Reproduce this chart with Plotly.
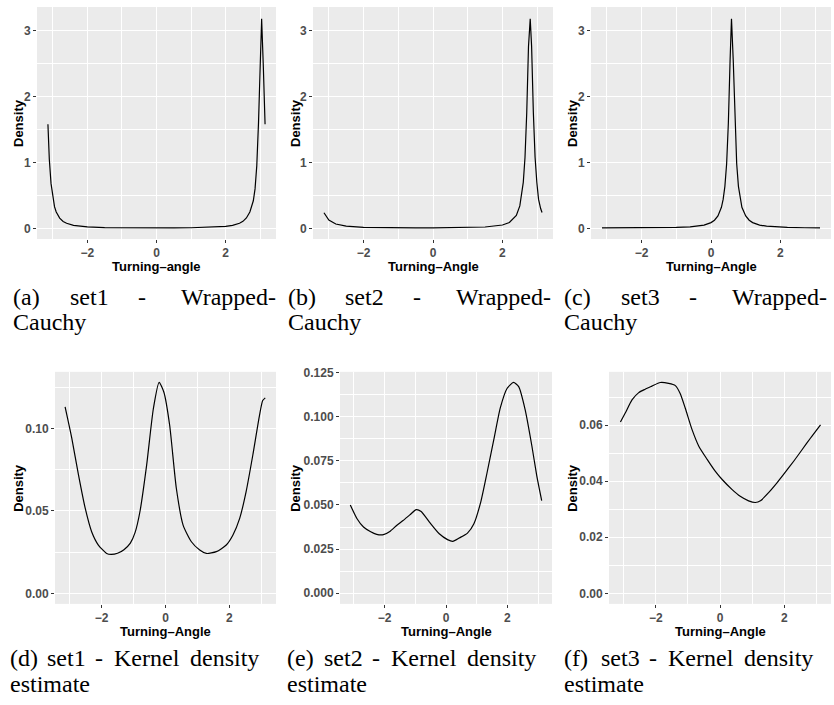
import plotly.graph_objects as go

# ---------------- data ----------------
# (a) set1 - Wrapped-Cauchy
xa = [-3.14, -3.1, -3.05, -3.0, -2.95, -2.9, -2.8, -2.7, -2.6, -2.4, -2.2, -2.0, -1.5, -1.0, -0.5,
      0.0, 0.5, 1.0, 1.5, 2.0, 2.2, 2.4, 2.5, 2.6, 2.7, 2.8, 2.85, 2.9, 2.95, 3.0, 3.04, 3.09, 3.14]
ya = [1.58, 1.05, 0.68, 0.46, 0.33, 0.25, 0.157, 0.107, 0.078, 0.047, 0.032, 0.023, 0.0135, 0.0098, 0.0083,
      0.008, 0.0087, 0.0109, 0.0163, 0.032, 0.047, 0.079, 0.108, 0.159, 0.25, 0.42, 0.6, 0.95, 1.6, 2.6, 3.18, 2.45, 1.58]

# (b) set2 - Wrapped-Cauchy
xb = [-3.14, -3.0, -2.8, -2.5, -2.0, -1.5, -1.0, -0.5, 0.0, 0.5, 1.0, 1.5, 2.0, 2.2, 2.4, 2.5,
      2.6, 2.65, 2.7, 2.75, 2.8, 2.84, 2.89, 2.94, 2.99, 3.04, 3.1, 3.14]
yb = [0.238, 0.128, 0.067, 0.0347, 0.0171, 0.0113, 0.0088, 0.008, 0.0082, 0.0097, 0.0133, 0.0219, 0.0527, 0.091, 0.198, 0.342,
      0.70, 1.08, 1.76, 2.76, 3.18, 2.76, 1.76, 1.08, 0.70, 0.441, 0.302, 0.243]

# (c) set3 - Wrapped-Cauchy
xc = [-3.14, -2.5, -2.0, -1.5, -1.0, -0.6, -0.4, -0.2, 0.0, 0.1, 0.2, 0.3, 0.35, 0.4, 0.45, 0.5, 0.55,
      0.59, 0.64, 0.69, 0.74, 0.79, 0.84, 0.89, 1.0, 1.1, 1.2, 1.4, 1.6, 1.8, 2.2, 2.7, 3.14]
yc = [0.0087, 0.008, 0.0085, 0.0105, 0.0155, 0.0248, 0.0343, 0.0516, 0.0886, 0.125, 0.190, 0.321, 0.441, 0.639, 0.982, 1.60, 2.56,
      3.18, 2.56, 1.60, 0.982, 0.639, 0.441, 0.321, 0.190, 0.125, 0.0886, 0.0516, 0.0343, 0.0248, 0.0155, 0.0105, 0.0085]

# (d) set1 - Kernel density estimate
xd = [-3.14, -2.93, -2.72, -2.51, -2.31, -2.10, -1.84, -1.70, -1.50, -1.30, -1.10, -0.95, -0.80, -0.59,
      -0.38, -0.20, -0.05, 0.13, 0.34, 0.55, 0.81, 1.07, 1.28, 1.59, 1.90, 2.11, 2.32, 2.52, 2.73, 2.94, 3.04, 3.12]
yd = [0.1131, 0.094, 0.0717, 0.0515, 0.0374, 0.0293, 0.0242, 0.0236, 0.0243, 0.0265, 0.0305, 0.037, 0.0495, 0.0778,
      0.112, 0.128, 0.122, 0.102, 0.0636, 0.0414, 0.0313, 0.0263, 0.0242, 0.0253, 0.0293, 0.0354, 0.0455, 0.0616, 0.0838, 0.108, 0.117, 0.1186]

# (e) set2 - Kernel density estimate
xe = [-3.12, -2.90, -2.69, -2.47, -2.26, -2.04, -1.83, -1.61, -1.40, -1.18, -0.97, -0.81, -0.54, -0.22, 0.05, 0.22,
      0.43, 0.70, 0.91, 1.13, 1.34, 1.56, 1.77, 1.99, 2.20, 2.37, 2.58, 2.80, 2.96, 3.12]
ye = [0.0500, 0.0422, 0.0375, 0.0350, 0.0334, 0.0332, 0.0350, 0.0384, 0.0412, 0.0444, 0.0474, 0.0463, 0.0403, 0.0337, 0.0304, 0.0294,
      0.0313, 0.0341, 0.0394, 0.0515, 0.0684, 0.0871, 0.105, 0.116, 0.1194, 0.117, 0.104, 0.0834, 0.0665, 0.0525]

# (f) set3 - Kernel density estimate
xf = [-3.10, -2.95, -2.74, -2.53, -2.33, -2.12, -1.86, -1.60, -1.39, -1.24, -1.08, -0.87, -0.66, -0.40, -0.15, 0.06,
      0.37, 0.63, 0.89, 1.10, 1.26, 1.52, 1.78, 2.04, 2.30, 2.56, 2.82, 3.13]
yf = [0.0611, 0.0643, 0.0690, 0.0716, 0.0728, 0.0739, 0.0752, 0.0749, 0.0741, 0.0713, 0.0660, 0.0584, 0.0525, 0.0478, 0.0436, 0.0407,
      0.0371, 0.0346, 0.0330, 0.0324, 0.0330, 0.0360, 0.0395, 0.0433, 0.0472, 0.0513, 0.0554, 0.0601]

x_tick_vals = [-2, 0, 2]
x_minor_vals = [-3, -1, 1, 3]
x_titles = ["Turning–angle", "Turning–Angle", "Turning–Angle", "Turning–Angle", "Turning–Angle", "Turning–Angle"]
y_title = "Density"
cap_line1 = [["(a)", "set1", "-", "Wrapped-"], ["(b)", "set2", "-", "Wrapped-"], ["(c)", "set3", "-", "Wrapped-"],
             ["(d)", "set1", "-", "Kernel", "density"], ["(e)", "set2", "-", "Kernel", "density"],
             ["(f)", "set3", "-", "Kernel", "density"]]
cap_line2 = ["Cauchy", "Cauchy", "Cauchy", "estimate", "estimate", "estimate"]

# ---------------- layout helpers ----------------
W, H = 834, 705
def fx(p): return p / W
def fy(p): return 1 - p / H

SANS = "Liberation Sans, Arial, Helvetica, sans-serif"
SERIF = "Liberation Serif, Times New Roman, serif"

panels = [
    dict(x=xa, y=ya, xd=(37, 276), yd=(1, 235), yr=(-0.16, 3.36), yt=[0, 1, 2, 3], ym=[0.5, 1.5, 2.5], fmt="d", shape="linear"),
    dict(x=xb, y=yb, xd=(313, 553), yd=(1, 235), yr=(-0.16, 3.36), yt=[0, 1, 2, 3], ym=[0.5, 1.5, 2.5], fmt="d", shape="linear"),
    dict(x=xc, y=yc, xd=(591, 831), yd=(1, 235), yr=(-0.16, 3.36), yt=[0, 1, 2, 3], ym=[0.5, 1.5, 2.5], fmt="d", shape="linear"),
    dict(x=xd, y=yd, xd=(55, 276), yd=(369, 603), yr=(-0.0064, 0.1344), yt=[0, 0.05, 0.10], ym=[0.025, 0.075, 0.125],
         fmt=".2f", shape="spline"),
    dict(x=xe, y=ye, xd=(340, 552), yd=(369, 603), yr=(-0.006, 0.1254), yt=[0, 0.025, 0.05, 0.075, 0.1, 0.125],
         ym=[0.0125, 0.0375, 0.0625, 0.0875, 0.1125], fmt=".3f", shape="spline"),
    dict(x=xf, y=yf, xd=(609, 831), yd=(369, 603), yr=(-0.00376, 0.079), yt=[0, 0.02, 0.04, 0.06], ym=[0.01, 0.03, 0.05, 0.07],
         fmt=".2f", shape="spline"),
]

fig = go.Figure()
layout = dict(width=W, height=H, margin=dict(l=0, r=0, t=0, b=0), paper_bgcolor="white",
              plot_bgcolor="#EBEBEB", showlegend=False, annotations=[])

tickfont = dict(family=SANS, size=12, color="#4D4D4D", weight="bold")
common = dict(showgrid=True, gridcolor="white", gridwidth=1.2, zeroline=False, showline=False,
              ticks="outside", ticklen=3, tickwidth=1, tickcolor="#333333", tickfont=tickfont, fixedrange=True)

for i, p in enumerate(panels):
    n = "" if i == 0 else str(i + 1)
    fig.add_trace(go.Scatter(x=p["x"], y=p["y"], mode="lines",
                             line=dict(color="black", width=1.2, shape=p["shape"], smoothing=0.6),
                             xaxis="x" + n, yaxis="y" + n, hoverinfo="skip"))
    layout["xaxis" + n] = dict(domain=[fx(p["xd"][0]), fx(p["xd"][1])], anchor="y" + n,
                               range=[-3.456, 3.456], tickmode="array", tickvals=x_tick_vals,
                               minor=dict(tickmode="array", tickvals=x_minor_vals, showgrid=True,
                                          gridcolor="white", gridwidth=0.6, ticks=""), **common)
    layout["yaxis" + n] = dict(domain=[fy(p["yd"][1]), fy(p["yd"][0])], anchor="x" + n,
                               range=list(p["yr"]), tickmode="array", tickvals=p["yt"], tickformat=p["fmt"],
                               minor=dict(tickmode="array", tickvals=p["ym"], showgrid=True,
                                          gridcolor="white", gridwidth=0.6, ticks=""), **common)

def ann(text, x, y, xa="left", ya="middle", size=24, family=SERIF, angle=0, weight="normal", color="black"):
    layout["annotations"].append(dict(text=text, x=fx(x), y=fy(y), xref="paper", yref="paper",
                                      xanchor=xa, yanchor=ya, showarrow=False, textangle=angle,
                                      font=dict(family=family, size=size, color=color, weight=weight)))

# axis titles
dens_x = [19, 296, 573, 19, 296, 573]
for i, p in enumerate(panels):
    cy = (p["yd"][0] + p["yd"][1]) / 2
    ann(y_title, dens_x[i], cy, xa="center", size=13, family=SANS, angle=-90, weight="bold")
    cx = (p["xd"][0] + p["xd"][1]) / 2
    ty = 263 if i < 3 else 631
    ann(x_titles[i], cx, ty, xa="center", size=13, family=SANS, weight="bold")

# captions (word positions follow the LaTeX subcaptions)
lefts_top = [11, 286, 562]
lefts_bot = [8, 285, 562]
for i in range(6):
    w = cap_line1[i]
    if i < 3:
        L = lefts_top[i]
        y1, y2 = 293, 319
        ann(w[0], L, y1)
        ann(w[1], L + 57, y1)
        ann(w[2], L + 131, y1, xa="center")
        ann(w[3], L + 267, y1, xa="right")
    else:
        L = lefts_bot[i - 3]
        y1, y2 = 658, 684
        ann(w[0], L, y1)
        ann(w[1], L + 37, y1)
        ann(w[2], L + 91, y1, xa="center")
        ann(w[3], L + 104, y1)
        ann(w[4], L + 180, y1)
    ann(cap_line2[i], L, y2)

fig.update_layout(**layout)
fig.write_html("out.html", config={"displayModeBar": False},
               post_script="document.body.style.margin='0';document.body.style.overflow='hidden';")
